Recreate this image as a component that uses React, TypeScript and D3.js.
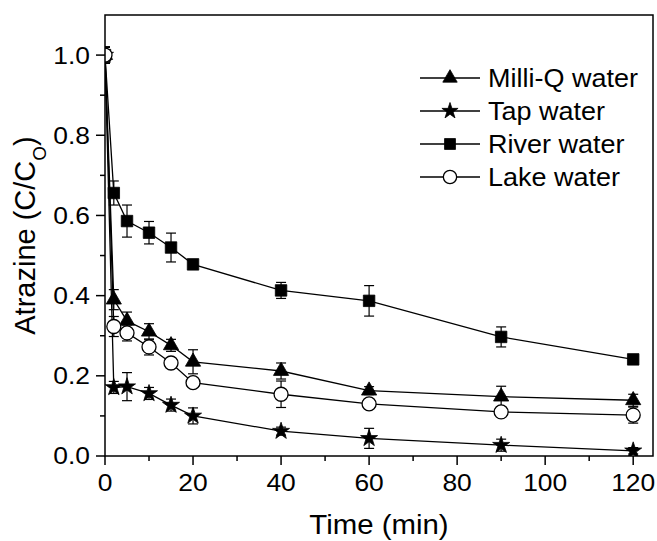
import * as d3 from "d3";

// sampling times (min)
const times = [0, 2, 5, 10, 15, 20, 40, 60, 90, 120];

// C/C0 per water matrix
const milliQ = [1.0, 0.39, 0.337, 0.31, 0.276, 0.235, 0.212, 0.163, 0.148, 0.139];
const milliQErr = [0.02, 0.025, 0.022, 0.02, 0.015, 0.03, 0.02, 0.01, 0.026, 0.015];
const tap = [1.0, 0.171, 0.173, 0.156, 0.127, 0.1, 0.062, 0.044, 0.027, 0.013];
const tapErr = [0.02, 0.015, 0.035, 0.015, 0.015, 0.02, 0.01, 0.025, 0.015, 0.008];
const river = [1.0, 0.656, 0.586, 0.557, 0.52, 0.478, 0.413, 0.387, 0.297, 0.241];
const riverErr = [0.02, 0.03, 0.04, 0.028, 0.036, 0.008, 0.02, 0.038, 0.025, 0.008];
const lake = [1.0, 0.323, 0.307, 0.272, 0.232, 0.183, 0.154, 0.13, 0.11, 0.102];
const lakeErr = [0.02, 0.025, 0.02, 0.02, 0.01, 0.012, 0.033, 0.012, 0.012, 0.02];

const seriesNames = ["Milli-Q water", "Tap water", "River water", "Lake water"];
const xTickValues = [0, 20, 40, 60, 80, 100, 120];
const yTickValues = [0, 0.2, 0.4, 0.6, 0.8, 1.0];

type Shape = "triangle" | "star" | "square" | "circle";

const series: { name: string; values: number[]; err: number[]; shape: Shape }[] = [
  { name: seriesNames[0], values: milliQ, err: milliQErr, shape: "triangle" },
  { name: seriesNames[1], values: tap, err: tapErr, shape: "star" },
  { name: seriesNames[2], values: river, err: riverErr, shape: "square" },
  { name: seriesNames[3], values: lake, err: lakeErr, shape: "circle" },
];

const font = "'Liberation Sans', Arial, Helvetica, sans-serif";

function Marker({ shape, cx, cy, scale = 1 }: { shape: Shape; cx: number; cy: number; scale?: number }) {
  if (shape === "circle") {
    return <circle cx={cx} cy={cy} r={7 * scale} fill="white" stroke="black" strokeWidth={1.3} />;
  }
  const sym = shape === "triangle" ? d3.symbolTriangle : shape === "star" ? d3.symbolStar : d3.symbolSquare;
  const size = shape === "triangle" ? 100 : shape === "star" ? 90 : 132;
  const path = d3.symbol(sym, size * scale * scale)() as string;
  return <path d={path} transform={`translate(${cx},${cy})`} fill="black" stroke="black" strokeWidth={0.8} />;
}

export default function App() {
  const width = 657;
  const height = 541;
  const left = 105, right = 653, top = 15, bottom = 456;

  const x = d3.scaleLinear([0, 124.5], [left, right]);
  const y = d3.scaleLinear([0, 1.1], [bottom, top]);

  const line = d3.line<number>()
    .x((_, i) => x(times[i]))
    .y(d => y(d));

  const xMinor = d3.range(10, 121, 20);
  const yMinor = d3.range(0.1, 1.05, 0.2);

  return (
    <svg width={width} height={height} style={{ position: "absolute", left: 0, top: 0, background: "white" }} fontFamily={font}>
      <defs>
        <clipPath id="plot-area">
          <rect x={left} y={top} width={right - left} height={bottom - top} />
        </clipPath>
      </defs>

      {/* data */}
      <g clipPath="url(#plot-area)">
        {series.map(s => (
          <g key={s.name}>
            <path d={line(s.values) as string} fill="none" stroke="black" strokeWidth={1.3} />
            {s.values.map((v, i) => {
              const cx = x(times[i]);
              const e = s.err[i];
              return (
                <g key={i} stroke="black" strokeWidth={1.2}>
                  <line x1={cx} x2={cx} y1={y(v + e)} y2={y(v - e)} />
                  <line x1={cx - 5} x2={cx + 5} y1={y(v + e)} y2={y(v + e)} />
                  <line x1={cx - 5} x2={cx + 5} y1={y(v - e)} y2={y(v - e)} />
                </g>
              );
            })}
            {s.values.map((v, i) => (
              <Marker key={i} shape={s.shape} cx={x(times[i])} cy={y(v)} />
            ))}
          </g>
        ))}
      </g>

      {/* frame */}
      <rect x={left} y={top} width={right - left} height={bottom - top} fill="none" stroke="black" strokeWidth={1.5} />

      {/* x axis */}
      {xTickValues.map(t => (
        <g key={t}>
          <line x1={x(t)} x2={x(t)} y1={bottom} y2={bottom + 9} stroke="black" strokeWidth={1.5} />
          <text transform={`translate(${x(t)},${bottom + 35}) scale(1.1,1)`} textAnchor="middle" fontSize={24}>{t}</text>
        </g>
      ))}
      {xMinor.map(t => (
        <line key={t} x1={x(t)} x2={x(t)} y1={bottom} y2={bottom + 5} stroke="black" strokeWidth={1.5} />
      ))}
      <text transform={`translate(${(left + right) / 2},534) scale(1.05,1)`} textAnchor="middle" fontSize={28}>Time (min)</text>

      {/* y axis */}
      {yTickValues.map(v => (
        <g key={v}>
          <line x1={left - 9} x2={left} y1={y(v)} y2={y(v)} stroke="black" strokeWidth={1.5} />
          <text transform={`translate(${left - 15},${y(v)}) scale(1.1,1)`} dy="0.35em" textAnchor="end" fontSize={24}>{d3.format(".1f")(v)}</text>
        </g>
      ))}
      {yMinor.map(v => (
        <line key={v} x1={left - 5} x2={left} y1={y(v)} y2={y(v)} stroke="black" strokeWidth={1.5} />
      ))}
      <text transform={`translate(35,${(top + bottom) / 2}) rotate(-90)`} textAnchor="middle" fontSize={29}>
        Atrazine (C/C<tspan baselineShift="sub" fontSize={19}>O</tspan>)
      </text>

      {/* legend */}
      {series.map((s, i) => {
        const ly = 78 + i * 33;
        return (
          <g key={s.name}>
            <line x1={420} x2={480} y1={ly} y2={ly} stroke="black" strokeWidth={1.3} />
            <Marker shape={s.shape} cx={450} cy={ly} scale={0.95} />
            <text transform={`translate(488,${ly}) scale(1.08,1)`} dy="0.36em" fontSize={25}>{s.name}</text>
          </g>
        );
      })}
    </svg>
  );
}
